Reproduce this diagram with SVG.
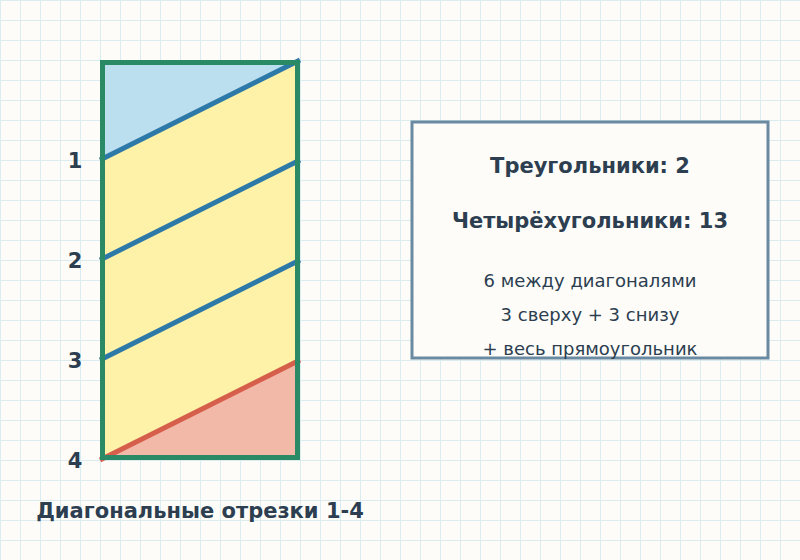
<svg xmlns="http://www.w3.org/2000/svg" width="800" height="560" viewBox="0 0 800 560">
<defs>
<pattern id="grid" x="0" y="0" width="20" height="20" patternUnits="userSpaceOnUse">
<path d="M0.5 0V20M0 0.5H20" fill="none" stroke="#daecf0" stroke-width="1"/>
</pattern>
<style>
.lbl{font-family:"DejaVu Sans",sans-serif;font-weight:bold;font-size:21px;fill:#2c3e50;text-anchor:middle}
.note{font-family:"DejaVu Sans",sans-serif;font-size:18px;fill:#2c3e50;text-anchor:middle}
.diag{stroke:#2d79a8;stroke-width:5;fill:none}
</style>
</defs>
<rect width="800" height="560" fill="#fdfcf8"/>
<rect width="800" height="560" fill="url(#grid)"/>
<g id="shape">
<polygon points="100,60 300,60 100,160" fill="#bcdff0"/>
<polygon points="100,160 300,60 300,360 100,460" fill="#fef2a8"/>
<polygon points="100,460 300,360 300,460" fill="#f2b8a8"/>
</g>
<g id="connectors">
<line class="diag" x1="100" y1="160" x2="300" y2="60"/>
<line class="diag" x1="100" y1="260" x2="300" y2="160"/>
<line class="diag" x1="100" y1="360" x2="300" y2="260"/>
<line x1="100" y1="460" x2="300" y2="360" stroke="#d65f4b" stroke-width="5"/>
</g>
<g id="rect">
<rect x="102.5" y="62.5" width="195" height="395" fill="none" stroke="#2a8a66" stroke-width="5"/>
</g>
<g id="labels">
<text class="lbl" x="75" y="168">1</text>
<text class="lbl" x="75" y="268">2</text>
<text class="lbl" x="75" y="368">3</text>
<text class="lbl" x="75" y="468">4</text>
</g>
<g id="infobox">
<rect x="412" y="122" width="356" height="236" fill="#fdfcf8" stroke="#6a8aa2" stroke-width="3"/>
<text class="lbl" x="590" y="173">Треугольники: 2</text>
<text class="lbl" x="590" y="228">Четырёхугольники: 13</text>
<text class="note" x="590" y="287">6 между диагоналями</text>
<text class="note" x="590" y="321">3 сверху + 3 снизу</text>
<text class="note" x="590" y="355">+ весь прямоугольник</text>
</g>
<g id="title">
<text class="lbl" x="200" y="518">Диагональные отрезки 1-4</text>
</g>
</svg>
